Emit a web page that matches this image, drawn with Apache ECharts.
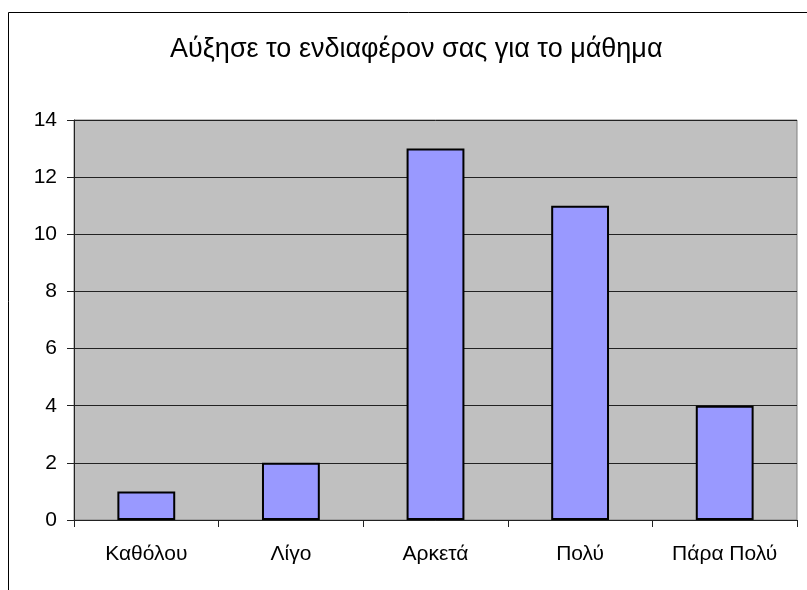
<!DOCTYPE html>
<html>
<head>
<meta charset="utf-8">
<script src="https://cdn.jsdelivr.net/npm/echarts@6/dist/echarts.min.js"></script>
<style>html,body{margin:0;padding:0;background:#fff}#c{width:807px;height:590px}</style>
</head>
<body>
<div id="c"></div>
<script>
var titleText = 'Αύξησε το ενδιαφέρον σας για το μάθημα';
var categories = ['Καθόλου', 'Λίγο', 'Αρκετά', 'Πολύ', 'Πάρα Πολύ'];
var values = [1, 2, 13, 11, 4];
var yMin = 0, yMax = 14, yStep = 2;

var chart = echarts.init(document.getElementById('c'));
chart.setOption({
  animation: false,
  backgroundColor: '#fff',
  title: {
    text: titleText, left: 165, top: 31,
    textStyle: { fontFamily: 'Liberation Sans, Arial', fontSize: 27, fontWeight: 'normal', color: '#000' }
  },
  graphic: [{
    type: 'rect', shape: { x: 8.5, y: 12.5, width: 900, height: 700 },
    style: { fill: 'none', stroke: '#000', lineWidth: 1 }, silent: true, z: -10
  }],
  grid: {
    left: 74, right: 10, top: 120, bottom: 70,
    show: true, backgroundColor: '#C0C0C0', borderColor: '#808080', borderWidth: 1
  },
  xAxis: {
    type: 'category', data: categories,
    axisLine: { lineStyle: { color: '#222', width: 1 } },
    axisTick: { show: true, length: 7, lineStyle: { color: '#222' } },
    axisLabel: { margin: 24, fontFamily: 'Liberation Sans, Arial', fontSize: 21, color: '#000' }
  },
  yAxis: {
    type: 'value', min: yMin, max: yMax, interval: yStep,
    axisLine: { show: true, lineStyle: { color: '#222', width: 1 } },
    axisTick: { show: true, length: 7, lineStyle: { color: '#222' } },
    axisLabel: { margin: 17, fontFamily: 'Liberation Sans, Arial', fontSize: 21, color: '#000' },
    splitLine: { show: true, lineStyle: { color: '#222', width: 1 } }
  },
  series: [{
    type: 'bar', data: values, barWidth: '40%',
    itemStyle: { color: '#9999FF', borderColor: '#000', borderWidth: 2 }
  }]
});
</script>
</body>
</html>
